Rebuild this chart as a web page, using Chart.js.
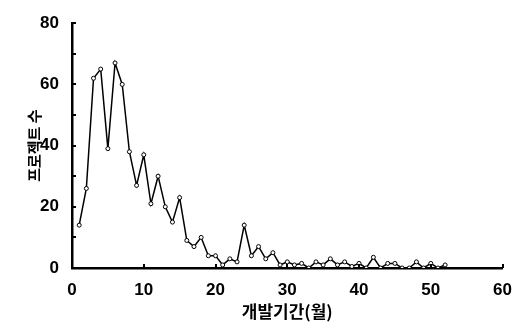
<!DOCTYPE html>
<html>
<head>
<meta charset="utf-8">
<script src="https://cdn.jsdelivr.net/npm/chart.js@4.4.0/dist/chart.umd.min.js"></script>
<style>
  html, body { margin: 0; padding: 0; background: #fff; }
  #wrap { width: 524px; height: 332px; }
</style>
</head>
<body>
<div id="wrap"><canvas id="c" width="524" height="332"></canvas></div>
<script>
const months = [1,2,3,4,5,6,7,8,9,10,11,12,13,14,15,16,17,18,19,20,21,22,23,24,25,26,27,28,29,30,31,32,33,34,35,36,37,38,39,40,41,42,43,44,45,46,47,48,49,50,51,52];
const projectCounts = [14,26,62,65,39,67,60,38,27,37,21,30,20,15,23,9,7,10,4,4,1,3,2,14,4,7,3,5,1,2,1,1.5,0,2,1,3,1,2,0.5,1.5,0,3.5,0,1.5,1.5,0,0,2,0,1.5,0,1];
const xTickLabels = [0,10,20,30,40,50,60];
const yTickLabels = [0,20,40,60,80];
const xTitle = '개발기간(월)';
const yTitle = '프로젝트 수';

const points = months.map((m, i) => ({x: m, y: projectCounts[i]}));

const innerTicks = {
  id: 'innerTicks',
  afterDatasetsDraw(chart) {
    const ctx = chart.ctx;
    const xs = chart.scales.x, ys = chart.scales.y;
    const area = chart.chartArea;
    ctx.save();
    ctx.strokeStyle = '#000';
    ctx.lineWidth = 2;
    ctx.beginPath();
    for (let v = 10; v <= 80; v += 10) {
      const py = Math.round(ys.getPixelForValue(v));
      ctx.moveTo(area.left, py);
      ctx.lineTo(area.left + 4, py);
    }
    for (let v = 10; v <= 60; v += 10) {
      const px = Math.round(xs.getPixelForValue(v));
      ctx.moveTo(px, area.bottom);
      ctx.lineTo(px, area.bottom - 4);
    }
    ctx.stroke();
    ctx.restore();
  }
};

new Chart(document.getElementById('c'), {
  type: 'line',
  data: {
    datasets: [{
      data: points,
      borderColor: '#000',
      borderWidth: 1.5,
      pointRadius: 2,
      pointBorderWidth: 1,
      pointBackgroundColor: '#fff',
      pointBorderColor: '#000',
      tension: 0,
      fill: false
    }]
  },
  options: {
    responsive: false,
    animation: false,
    devicePixelRatio: 1,
    layout: { padding: { top: 12, right: 20, left: 0, bottom: 0 } },
    plugins: { legend: { display: false }, tooltip: { enabled: false } },
    scales: {
      x: {
        type: 'linear',
        min: 0, max: 60,
        afterBuildTicks(scale) { scale.ticks = xTickLabels.map(v => ({value: v})); },
        afterFit(scale) { scale.height = 64; },
        grid: { display: false, drawTicks: false },
        border: { display: true, color: '#000', width: 2.5 },
        ticks: {
          color: '#000',
          padding: 12,
          maxRotation: 0,
          font: { family: 'Liberation Sans', size: 17, weight: 'bold' }
        },
        title: {
          display: true,
          text: xTitle,
          color: '#000',
          padding: { top: 0, bottom: 10 },
          font: { family: 'Noto Sans CJK KR', size: 17, weight: 'bold' }
        }
      },
      y: {
        min: 0, max: 80,
        afterBuildTicks(scale) { scale.ticks = yTickLabels.map(v => ({value: v})); },
        afterFit(scale) { scale.width = 72; },
        grid: { display: false, drawTicks: false },
        border: { display: true, color: '#000', width: 2.5 },
        ticks: {
          color: '#000',
          padding: 13,
          font: { family: 'Liberation Sans', size: 17, weight: 'bold' }
        },
        title: {
          display: true,
          text: yTitle,
          color: '#000',
          padding: { top: 25, bottom: 0 },
          font: { family: 'Noto Sans CJK KR', size: 15, weight: 'bold' }
        }
      }
    }
  },
  plugins: [innerTicks]
});
</script>
</body>
</html>
